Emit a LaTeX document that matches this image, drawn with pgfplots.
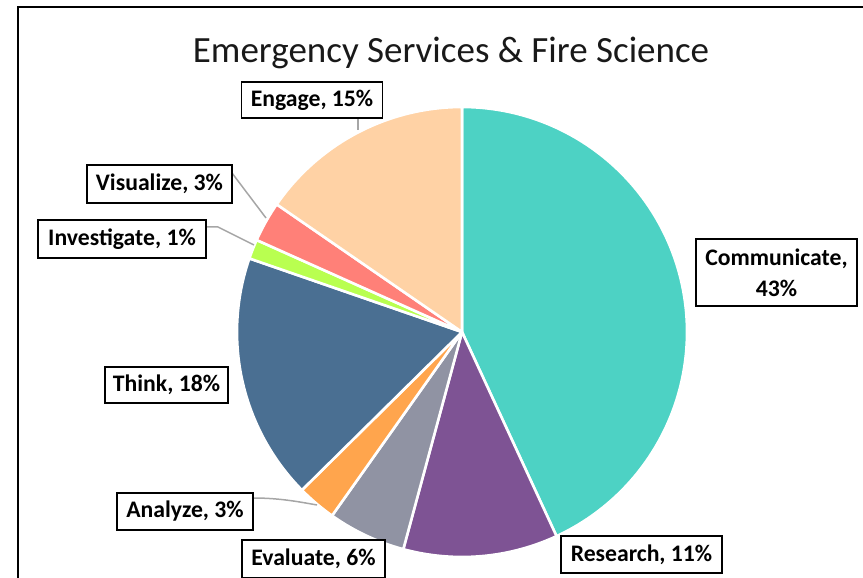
\documentclass[border=0pt]{standalone}
\usepackage{pgfplots}
\pgfplotsset{compat=1.18}
\usepackage{fontspec}
\setmainfont{Carlito}
\definecolor{cComm}{HTML}{4DD2C4}
\definecolor{cRes}{HTML}{7E5394}
\definecolor{cEval}{HTML}{9093A3}
\definecolor{cAna}{HTML}{FFA54D}
\definecolor{cThink}{HTML}{4A6F92}
\definecolor{cInv}{HTML}{B9FF50}
\definecolor{cVis}{HTML}{FF8078}
\definecolor{cEng}{HTML}{FFD2A5}
\definecolor{cLead}{HTML}{A6A6A6}
% data (percent): Communicate 43.1, Research 11.1, Evaluate 5.6, Analyze 2.8,
% Think 17.7, Investigate 1.4, Visualize 2.9, Engage 15.4 ; angle = 90 - 3.6*cumulative
\newcommand{\slice}[3]{\addplot[fill=#1, draw=white, line width=2.6bp, line join=round, domain=#2:#3, samples=120, variable=\t] ({cos(\t)},{sin(\t)}) -- (axis cs:0,0) -- cycle;}
\tikzset{lbl/.style={draw=black, line width=1.2bp, fill=white, inner sep=0pt, align=center, font=\fontsize{23.7bp}{31bp}\selectfont\bfseries}}
\begin{document}
\begin{tikzpicture}[x=1bp,y=1bp]
\useasboundingbox (0,0) rectangle (863,578);
\begin{axis}[hide axis, scale only axis, width=450bp, height=450bp,
  xmin=-1, xmax=1, ymin=-1, ymax=1, at={(462bp,246bp)}, anchor=center, clip=false]
\slice{cComm}{-65.16}{90}
\slice{cRes}{-105.12}{-65.16}
\slice{cEval}{-125.28}{-105.12}
\slice{cAna}{-135.36}{-125.28}
\slice{cThink}{-199.08}{-135.36}
\slice{cInv}{-204.12}{-199.08}
\slice{cVis}{-214.56}{-204.12}
\slice{cEng}{-270}{-214.56}
\end{axis}
\draw[line width=2bp, black, line join=miter] (18,-2) -- (18,571) -- (866,571);
\node[font=\fontsize{37bp}{44bp}\selectfont, text=black!90] at (451,525) {Emergency Services \& Fire Science};
% leader lines
\draw[cLead, line width=1.5bp] (358,462) -- (358,448);
\draw[cLead, line width=1.5bp] (232,405) -- (266,360);
\draw[cLead, line width=1.5bp] (206,351) -- (218,351) -- (254,333);
\draw[cLead, line width=1.5bp] (253,80) .. controls (280,80) and (300,76) .. (317,73);
% labels
\node[lbl, minimum width=141bp, minimum height=36bp] at (312,478) {Engage, 15\%};
\node[lbl, minimum width=145bp, minimum height=38bp] at (159.5,394) {Visualize, 3\%};
\node[lbl, minimum width=168bp, minimum height=38bp] at (122,339) {Investigate, 1\%};
\node[lbl, minimum width=161bp, minimum height=67bp] at (776.5,305.5) {Communicate,\\43\%};
\node[lbl, minimum width=123bp, minimum height=36bp] at (166.5,193) {Think, 18\%};
\node[lbl, minimum width=136bp, minimum height=37bp] at (185,66.5) {Analyze, 3\%};
\node[lbl, minimum width=143bp, minimum height=38bp] at (313.5,19) {Evaluate, 6\%};
\node[lbl, minimum width=161bp, minimum height=37bp] at (641.5,23.5) {Research, 11\%};
\end{tikzpicture}
\end{document}
